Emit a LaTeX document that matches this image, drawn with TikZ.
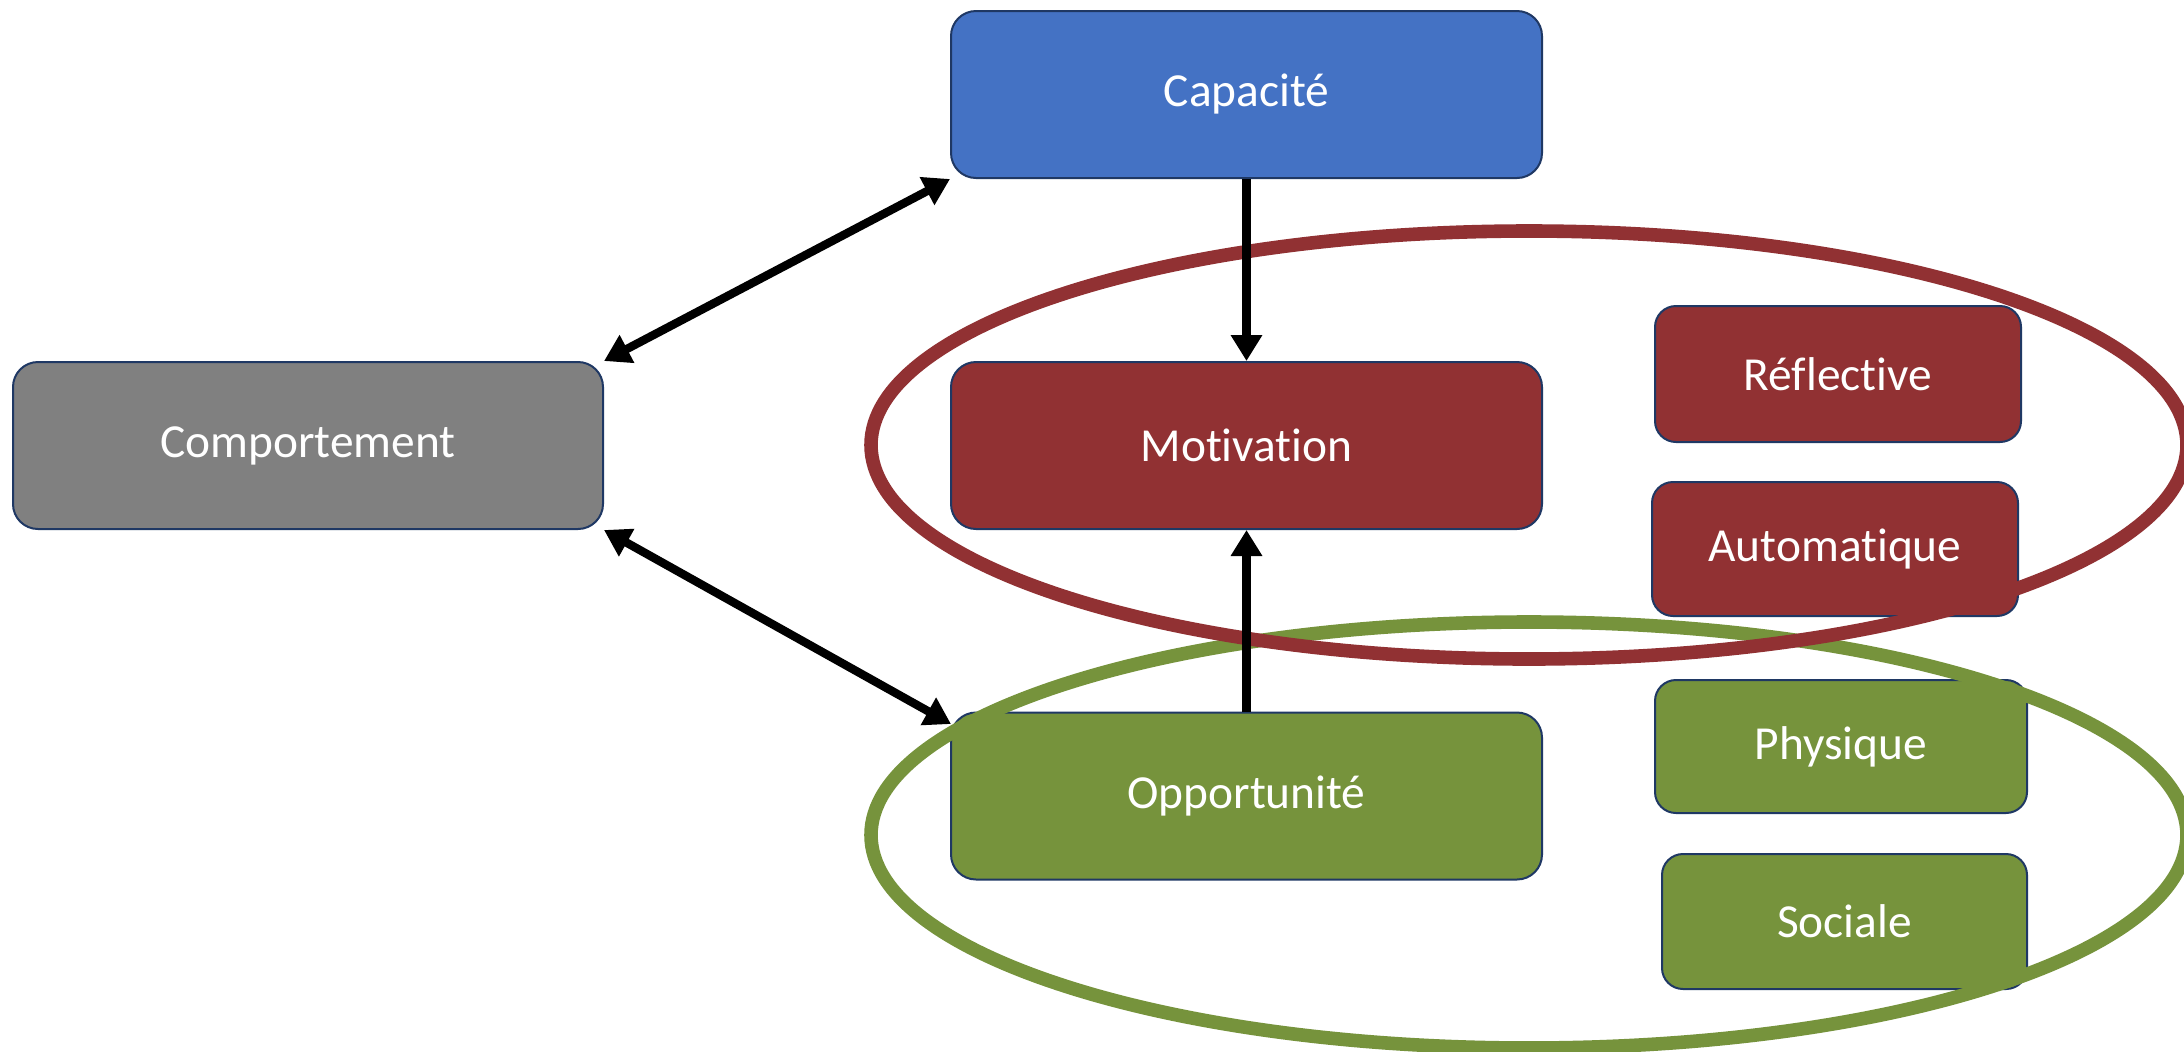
\documentclass[tikz,border=0pt]{standalone}
\usepackage{fontspec}
\setmainfont[Ligatures=NoCommon]{Carlito}
\usetikzlibrary{arrows.meta}
\definecolor{capblue}{HTML}{4472C4}
\definecolor{motred}{HTML}{913133}
\definecolor{oppgreen}{HTML}{76933C}
\definecolor{compgray}{HTML}{808080}
\definecolor{edgenavy}{HTML}{1F3864}
\tikzset{
  box/.style={draw=edgenavy, line width=1pt, rounded corners=12.5pt, text=white,
    font=\fontsize{23.7}{28}\selectfont, inner sep=0pt, align=center},
  smallbox/.style={box, rounded corners=10.5pt},
  conn/.style={line width=4.2pt, black, arrows={-Triangle[length=13pt, width=15pt]}},
  biconn/.style={line width=4.2pt, black, arrows={Triangle[length=13pt, width=15pt]-Triangle[length=13pt, width=15pt]}},
  ring/.style={line width=6.8pt}
}
\begin{document}
\begin{tikzpicture}[x=0.5pt, y=-0.5pt]
\useasboundingbox (0,0) rectangle (2184,1051);
\fill[white] (0,0) rectangle (2184,1051);
\clip (0,0) rectangle (2184,1051);
% boxes
\node[box, fill=capblue, minimum width=295.5pt, minimum height=83.5pt] (cap) at (1246.5,94.5) {Capacité};
\node[box, fill=motred, minimum width=295.5pt, minimum height=83.5pt] (mot) at (1246.5,445.5) {Motivation};
\node[box, fill=oppgreen, minimum width=295.5pt, minimum height=83.5pt] (opp) at (1246.5,796) {Opportunité};
\node[box, fill=compgray, minimum width=295pt, minimum height=83.5pt] (comp) at (308,445.5) {Comportement};
\node[smallbox, fill=motred, minimum width=183pt, minimum height=68pt] (refl) at (1838,374) {Réflective};
\node[smallbox, fill=motred, minimum width=183pt, minimum height=67pt] (auto) at (1835,549) {Automatique};
\node[smallbox, fill=oppgreen, minimum width=186pt, minimum height=66.5pt] (phys) at (1841,746.5) {Physique};
\node[smallbox, fill=oppgreen, minimum width=182.5pt, minimum height=67.5pt] (soc) at (1844.5,921.5) {Sociale};
% ellipses
\draw[ring, oppgreen] (1529,835) ellipse [x radius=658, y radius=213];
\draw[ring, motred] (1529,445) ellipse [x radius=658, y radius=214];
% connectors
\coordinate (oppin) at (951,724);
\draw[biconn] (comp.north east) -- (cap.south west);
\draw[biconn] (comp.south east) -- (oppin);
\draw[conn] (cap.south) -- (mot.north);
\draw[conn] (opp.north) -- (mot.south);
\end{tikzpicture}
\end{document}
